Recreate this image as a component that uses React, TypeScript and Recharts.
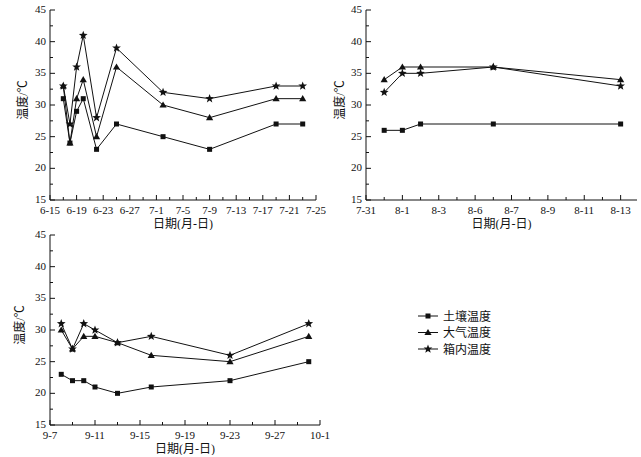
import { LineChart, Line, XAxis, YAxis } from 'recharts';

// 各时段观测日期与温度 (°C)
const juneDates = ['6-17', '6-18', '6-19', '6-20', '6-22', '6-25', '7-2', '7-9', '7-19', '7-23'];
const juneSoil = [31, 24, 29, 31, 23, 27, 25, 23, 27, 27];
const juneAir = [33, 24, 31, 34, 25, 36, 30, 28, 31, 31];
const juneBox = [33, 27, 36, 41, 28, 39, 32, 31, 33, 33];
const juneTicks = ['6-15', '6-19', '6-23', '6-27', '7-1', '7-5', '7-9', '7-13', '7-17', '7-21', '7-25'];

// 8月图的横轴刻度不等距，点位按刻度序号给出
const augPos = [0.5, 1, 1.5, 3.5, 7];
const augSoil = [26, 26, 27, 27, 27];
const augAir = [34, 36, 36, 36, 34];
const augBox = [32, 35, 35, 36, 33];
const augTicks = ['7-31', '8-1', '8-3', '8-6', '8-7', '8-9', '8-11', '8-13'];

const sepDates = ['9-8', '9-9', '9-10', '9-11', '9-13', '9-16', '9-23', '9-30'];
const sepSoil = [23, 22, 22, 21, 20, 21, 22, 25];
const sepAir = [30, 27, 29, 29, 28, 26, 25, 29];
const sepBox = [31, 27, 31, 30, 28, 29, 26, 31];
const sepTicks = ['9-7', '9-11', '9-15', '9-19', '9-23', '9-27', '10-1'];

const yTicks = [15, 20, 25, 30, 35, 40, 45];
const seriesNames = ['土壤温度', '大气温度', '箱内温度'];

const FONT = '"Liberation Serif", "Times New Roman", "Noto Sans CJK SC", serif';
const INK = '#111';

const monthDays: Record<number, number> = { 6: 30, 7: 31, 8: 31, 9: 30 };
function dayOffset(date: string, start: string) {
  const toAbs = (d: string) => {
    const [m, day] = d.split('-').map(Number);
    let total = day;
    for (let k = 6; k < m; k++) total += monthDays[k];
    return total;
  };
  return toAbs(date) - toAbs(start);
}

function rows(xs: number[], soil: number[], air: number[], box: number[]) {
  return xs.map((x, i) => ({ x, soil: soil[i], air: air[i], box: box[i] }));
}

function midpoints(ticks: number[]) {
  return ticks.slice(1).map((t, i) => (t + ticks[i]) / 2);
}

const squareDot = (p: any) => (
  <rect key={`s-${p.index}`} x={p.cx - 2.5} y={p.cy - 2.5} width={5} height={5} fill={INK} />
);
const triangleDot = (p: any) => (
  <path key={`t-${p.index}`} d={`M${p.cx},${p.cy - 3.6}L${p.cx + 3.6},${p.cy + 2.6}L${p.cx - 3.6},${p.cy + 2.6}Z`} fill={INK} />
);
function starPath(cx: number, cy: number, r: number) {
  let d = '';
  for (let i = 0; i < 10; i++) {
    const rr = i % 2 === 0 ? r : r * 0.42;
    const a = -Math.PI / 2 + (i * Math.PI) / 5;
    d += `${i === 0 ? 'M' : 'L'}${cx + rr * Math.cos(a)},${cy + rr * Math.sin(a)}`;
  }
  return d + 'Z';
}
const starDot = (p: any) => <path key={`b-${p.index}`} d={starPath(p.cx, p.cy, 4.6)} fill={INK} />;

interface PanelProps {
  left: number;
  top: number;
  width: number;
  yAxisWidth: number;
  right: number;
  data: { x: number; soil: number; air: number; box: number }[];
  majorX: number[];
  labelsX: string[];
  minorX: number[];
  domainX: [number, number];
  yLabelX: number;
}

function Panel({ left, top, width, yAxisWidth, right, data, majorX, labelsX, minorX, domainX, yLabelX }: PanelProps) {
  const height = 230;
  const plotTop = 10;
  const plotBottom = height - 30;
  const plotLeft = yAxisWidth;
  const plotRight = width - right;
  const labelOf = new Map(majorX.map((v, i) => [v, labelsX[i]]));
  const yMinor = midpoints(yTicks);

  const xTick = (p: any) => {
    const label = labelOf.get(p.payload.value);
    return (
      <g key={`xt-${p.index}`}>
        <line x1={p.x} x2={p.x} y1={p.y} y2={p.y - (label ? 5 : 3)} stroke={INK} />
        {label && (
          <text x={p.x} y={p.y + 14} textAnchor="middle" fontSize={11} fontFamily={FONT} fill={INK}>
            {label}
          </text>
        )}
      </g>
    );
  };
  const yTick = (p: any) => {
    const major = yTicks.includes(p.payload.value);
    return (
      <g key={`yt-${p.index}`}>
        <line x1={p.x} x2={p.x + (major ? 5 : 3)} y1={p.y} y2={p.y} stroke={INK} />
        {major && (
          <text x={p.x - 4} y={p.y + 3} textAnchor="end" fontSize={11} fontFamily={FONT} fill={INK}>
            {p.payload.value}
          </text>
        )}
      </g>
    );
  };

  return (
    <div style={{ position: 'absolute', left, top }}>
      <LineChart width={width} height={height} data={data} margin={{ top: plotTop, right, left: 0, bottom: 0 }}>
        <XAxis
          type="number"
          dataKey="x"
          domain={domainX}
          ticks={[...majorX, ...minorX].sort((a, b) => a - b)}
          interval={0}
          height={30}
          tickSize={0}
          tickMargin={0}
          tickLine={false}
          tick={xTick}
          axisLine={{ stroke: INK }}
          allowDataOverflow
          label={() => (
            <text
              x={(plotLeft + plotRight) / 2}
              y={plotBottom + 28}
              textAnchor="middle"
              fontSize={12}
              fontFamily={FONT}
              fill={INK}
            >
              日期(月-日)
            </text>
          )}
        />
        <YAxis
          type="number"
          domain={[15, 45]}
          ticks={[...yTicks, ...yMinor].sort((a, b) => a - b)}
          interval={0}
          width={yAxisWidth}
          tickSize={0}
          tickMargin={0}
          tickLine={false}
          tick={yTick}
          axisLine={{ stroke: INK }}
          label={() => {
            const cy = (plotTop + plotBottom) / 2 - 5;
            return (
              <text
                x={yLabelX}
                y={cy}
                transform={`rotate(-90, ${yLabelX}, ${cy})`}
                textAnchor="middle"
                dominantBaseline="central"
                fontSize={12}
                fontFamily={FONT}
                fill={INK}
              >
                温度/℃
              </text>
            );
          }}
        />
        <Line type="linear" dataKey="soil" stroke={INK} strokeWidth={1} dot={squareDot} activeDot={false} isAnimationActive={false} />
        <Line type="linear" dataKey="air" stroke={INK} strokeWidth={1} dot={triangleDot} activeDot={false} isAnimationActive={false} />
        <Line type="linear" dataKey="box" stroke={INK} strokeWidth={1} dot={starDot} activeDot={false} isAnimationActive={false} />
      </LineChart>
    </div>
  );
}

function LegendBox() {
  const markers = [
    (cx: number, cy: number) => <rect x={cx - 2.5} y={cy - 2.5} width={5} height={5} fill={INK} />,
    (cx: number, cy: number) => <path d={`M${cx},${cy - 3.6}L${cx + 3.6},${cy + 2.6}L${cx - 3.6},${cy + 2.6}Z`} fill={INK} />,
    (cx: number, cy: number) => <path d={starPath(cx, cy, 4.6)} fill={INK} />,
  ];
  return (
    <svg style={{ position: 'absolute', left: 410, top: 300 }} width={100} height={60}>
      {seriesNames.map((name, i) => {
        const cy = 16 + i * 16.5;
        return (
          <g key={name}>
            <line x1={8} x2={28} y1={cy} y2={cy} stroke={INK} />
            {markers[i](18, cy)}
            <text x={33} y={cy + 4.5} fontSize={12} fontFamily={FONT} fill={INK}>
              {name}
            </text>
          </g>
        );
      })}
    </svg>
  );
}

export default function App() {
  const juneMajor = juneTicks.map((t) => dayOffset(t, '6-15'));
  const sepMajor = sepTicks.map((t) => dayOffset(t, '9-7'));
  const augMajor = augTicks.map((_, i) => i);

  const juneData = rows(juneDates.map((d) => dayOffset(d, '6-15')), juneSoil, juneAir, juneBox);
  const augData = rows(augPos, augSoil, augAir, augBox);
  const sepData = rows(sepDates.map((d) => dayOffset(d, '9-7')), sepSoil, sepAir, sepBox);

  return (
    <div style={{ position: 'absolute', left: 0, top: 0, width: 641, height: 457, background: '#fff' }}>
      <Panel
        left={0}
        top={0}
        width={330}
        yAxisWidth={50}
        right={14}
        data={juneData}
        majorX={juneMajor}
        labelsX={juneTicks}
        minorX={midpoints(juneMajor)}
        domainX={[juneMajor[0], juneMajor[juneMajor.length - 1]]}
        yLabelX={23}
      />
      <Panel
        left={320}
        top={0}
        width={321}
        yAxisWidth={46}
        right={4}
        data={augData}
        majorX={augMajor}
        labelsX={augTicks}
        minorX={midpoints(augMajor)}
        domainX={[0, 7.45]}
        yLabelX={20}
      />
      <Panel
        left={0}
        top={225}
        width={330}
        yAxisWidth={50}
        right={10}
        data={sepData}
        majorX={sepMajor}
        labelsX={sepTicks}
        minorX={midpoints(sepMajor)}
        domainX={[sepMajor[0], sepMajor[sepMajor.length - 1]]}
        yLabelX={20}
      />
      <LegendBox />
    </div>
  );
}
